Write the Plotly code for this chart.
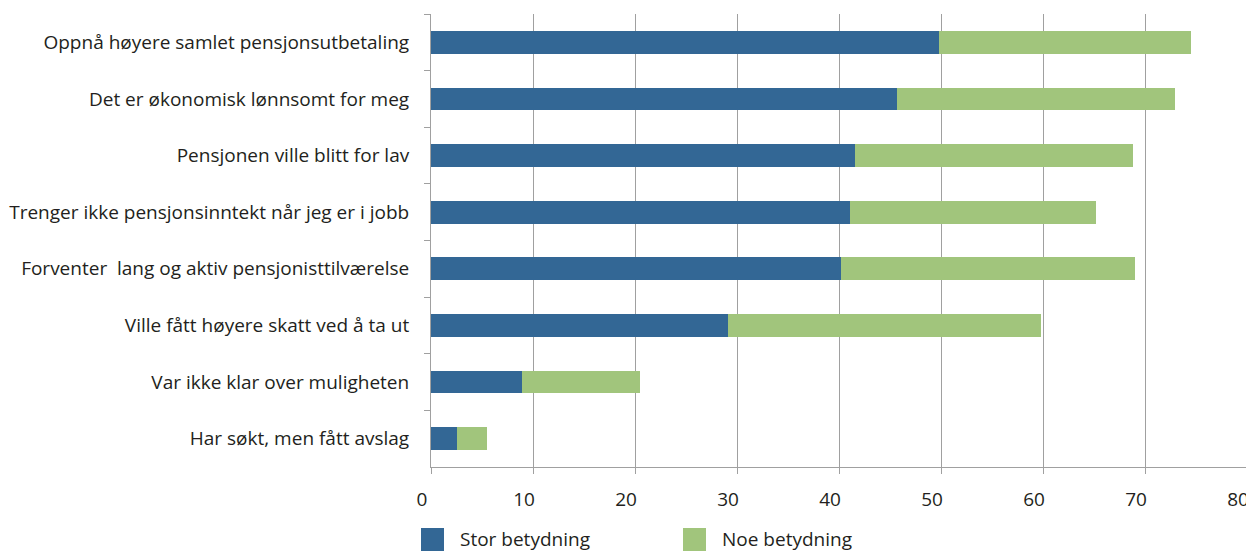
import plotly.graph_objects as go

categories = [
    "Oppnå høyere samlet pensjonsutbetaling",
    "Det er økonomisk lønnsomt for meg",
    "Pensjonen ville blitt for lav",
    "Trenger ikke pensjonsinntekt når jeg er i jobb",
    "Forventer  lang og aktiv pensjonisttilværelse",
    "Ville fått høyere skatt ved å ta ut",
    "Var ikke klar over muligheten",
    "Har søkt, men fått avslag",
]
series_names = ["Stor betydning", "Noe betydning"]
stor_betydning = [49.8, 45.7, 41.6, 41.1, 40.2, 29.1, 8.9, 2.5]
noe_betydning = [24.7, 27.2, 27.2, 24.1, 28.8, 30.7, 11.6, 3.0]
x_ticks = [0, 10, 20, 30, 40, 50, 60, 70, 80]

FONT = "Open Sans"
TXT = "#231f20"
GRID = "#a0a0a0"
COLORS = ["#336795", "#a1c57c"]

# page body has an 8px margin, so figure pixel = screen pixel - 8;
# figure is sized so that it fits inside the 1254x560 window
OFF = 8
W, H = 1254 - OFF, 560 - OFF
L, T = 431 - OFF, 14 - OFF
R = W - (1247 - OFF)
B = H - (467 - OFF)
PW, PH = W - L - R, H - T - B

fig = go.Figure()
for name, vals, col in zip(series_names, [stor_betydning, noe_betydning], COLORS):
    fig.add_trace(go.Bar(y=categories, x=vals, orientation="h", name=name, showlegend=False,
                         marker=dict(color=col, line=dict(width=0))))

# manual legend (large square swatches), positions given in screen pixels
def px_x(p):
    return (p - OFF - L) / PW

def px_y(p):
    return (H - B - (p - OFF)) / PH

legend_pos = [421, 683]
for name, col, x0 in zip(series_names, COLORS, legend_pos):
    fig.add_shape(type="rect", xref="paper", yref="paper",
                  x0=px_x(x0), x1=px_x(x0 + 23), y0=px_y(551), y1=px_y(528),
                  fillcolor=col, line=dict(width=0))
    fig.add_annotation(xref="paper", yref="paper", x=px_x(x0 + 37), y=px_y(539),
                       xanchor="left", yanchor="middle", text=name, showarrow=False,
                       font=dict(size=19, color=TXT, family=FONT))

fig.update_layout(
    barmode="stack",
    bargap=0.6,
    width=W, height=H,
    margin=dict(l=L, r=R, t=T, b=B),
    paper_bgcolor="white", plot_bgcolor="white",
    font=dict(family=FONT, size=19, color=TXT),
    showlegend=False,
    xaxis=dict(range=[0, 80], tickvals=x_ticks, showgrid=True, gridcolor=GRID, gridwidth=1,
               showline=True, linecolor=GRID, linewidth=1, ticks="outside", tickcolor=GRID,
               ticklen=6, tickfont=dict(size=19, color=TXT), ticklabelstandoff=9,
               ticklabelshift=-9, ticklabeloverflow="allow", zeroline=False, automargin=False),
    yaxis=dict(autorange="reversed", showline=True, linecolor=GRID, linewidth=1,
               ticks="outside", tickson="boundaries", tickcolor=GRID, ticklen=6,
               tickfont=dict(size=19, color=TXT), ticklabelstandoff=17, showgrid=False,
               automargin=False),
)

fig.write_html("out.html")
